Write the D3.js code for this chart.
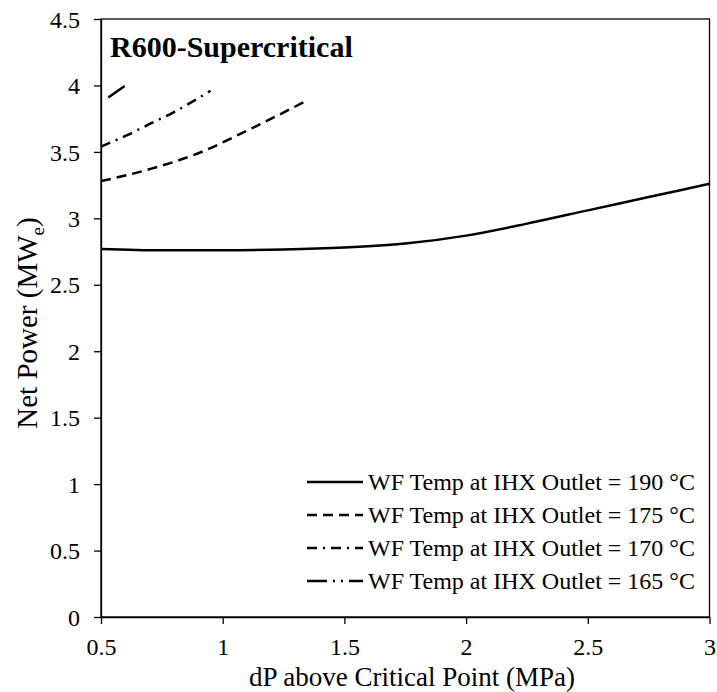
<!DOCTYPE html>
<html><head><meta charset="utf-8">
<script src="https://cdn.jsdelivr.net/npm/d3@7"></script>
<style>body{margin:0;background:#fff}svg{display:block}text{font-family:"Liberation Serif","Times New Roman",serif;fill:#000}</style>
</head><body><svg id="c" width="717" height="692"></svg>
<script>
const xTicks=[0.5,1,1.5,2,2.5,3];
const xTickLabels=["0.5","1","1.5","2","2.5","3"];
const yTicks=[0,0.5,1,1.5,2,2.5,3,3.5,4,4.5];
const yTickLabels=["0","0.5","1","1.5","2","2.5","3","3.5","4","4.5"];
const seriesNames=["WF Temp at IHX Outlet = 190 °C","WF Temp at IHX Outlet = 175 °C","WF Temp at IHX Outlet = 170 °C","WF Temp at IHX Outlet = 165 °C"];
const x190=[0.5,0.75,1,1.25,1.5,1.75,2,2.25,2.5,2.75,3];
const y190=[2.77,2.76,2.76,2.765,2.78,2.81,2.87,2.96,3.06,3.16,3.26];
const x175=[0.5,0.7,0.9,1.1,1.35];
const y175=[3.28,3.37,3.49,3.66,3.89];
const x170=[0.5,0.6,0.7,0.8,0.95];
const y170=[3.54,3.62,3.71,3.80,3.96];
const x165=[0.53,0.6];
const y165=[3.91,4.0];
const dashes=[null,"10,6","10,6,2,6","20,6,2,6,2,6"];

const svg=d3.select("#c");
const L=101,R=709.5,T=19,B=617;
const x=d3.scaleLinear().domain([0.5,3]).range([L,R]);
const y=d3.scaleLinear().domain([0,4.5]).range([B,T]);

svg.append("rect").attr("x",L).attr("y",T).attr("width",R-L).attr("height",B-T)
  .attr("fill","none").attr("stroke","#000").attr("stroke-width",1.3);

const xAxis=svg.append("g").attr("transform",`translate(0,${B})`)
  .call(d3.axisBottom(x).tickValues(xTicks).tickFormat((d,i)=>xTickLabels[i]).tickSizeOuter(0).tickSizeInner(7).tickPadding(8));
const yAxis=svg.append("g").attr("transform",`translate(${L},0)`)
  .call(d3.axisLeft(y).tickValues(yTicks).tickFormat((d,i)=>yTickLabels[i]).tickSizeOuter(0).tickSizeInner(7).tickPadding(14));
[xAxis,yAxis].forEach(g=>{
  g.select(".domain").attr("stroke","#000").attr("stroke-width",1.3);
  g.selectAll(".tick line").attr("stroke","#000").attr("stroke-width",1.3);
  g.selectAll(".tick text").attr("font-family","Liberation Serif").attr("font-size",24).attr("fill","#000");
});
xAxis.selectAll(".tick text").attr("dy","0.71em").attr("y",21);
yAxis.selectAll(".tick text").attr("dy","0.34em");

const line=d3.line().x(d=>x(d[0])).y(d=>y(d[1])).curve(d3.curveMonotoneX);
const series=[[x190,y190],[x175,y175],[x170,y170],[x165,y165]];
series.forEach((s,i)=>{
  const pts=s[0].map((v,j)=>[v,s[1][j]]);
  svg.append("path").datum(pts).attr("d",line).attr("fill","none")
    .attr("stroke","#000").attr("stroke-width",2.5)
    .attr("stroke-dasharray",dashes[i]);
});

seriesNames.forEach((n,i)=>{
  const yy=482+i*33;
  svg.append("line").attr("x1",307).attr("x2",363).attr("y1",yy).attr("y2",yy)
    .attr("stroke","#000").attr("stroke-width",2.5).attr("stroke-dasharray",dashes[i]);
  svg.append("text").attr("x",368).attr("y",yy).attr("dy","0.35em")
    .attr("font-size",24).text(n);
});

svg.append("text").attr("x",110).attr("y",57).attr("font-size",30).attr("font-weight","bold").text("R600-Supercritical");

svg.append("text").attr("x",412).attr("y",686).attr("text-anchor","middle").attr("font-size",27)
  .text("dP above Critical Point (MPa)");
const yt=svg.append("text").attr("transform",`translate(37,323) rotate(-90)`).attr("text-anchor","middle").attr("font-size",29);
yt.append("tspan").text("Net Power (MW");
yt.append("tspan").attr("font-size",19).attr("dy",7).text("e");
yt.append("tspan").attr("dy",-7).text(")");
</script></body></html>
